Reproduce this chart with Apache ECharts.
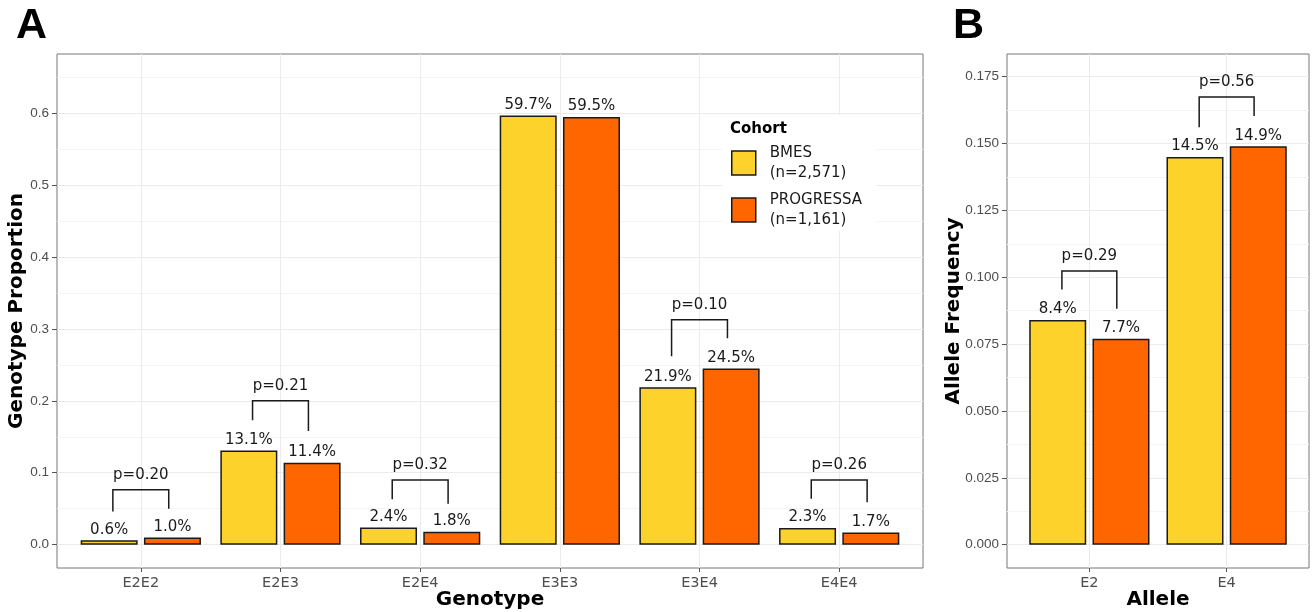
<!DOCTYPE html>
<html lang="en">
<head>
    <meta charset="utf-8">
    <title>APOE genotype and allele</title>
    <script src="https://cdn.jsdelivr.net/npm/echarts@6/dist/echarts.min.js"></script>
    <style>
        html, body { margin: 0; padding: 0; background: #fff; }
        #chart { width: 1313px; height: 612px; }
    </style>
</head>
<body>
<div id="chart"></div>

<script>
    // panel A - genotype proportions
    var genotypes = ['E2E2', 'E2E3', 'E2E4', 'E3E3', 'E3E4', 'E4E4'];
    var bmesGenotype = [0.006, 0.131, 0.024, 0.597, 0.219, 0.023];
    var progressaGenotype = [0.010, 0.114, 0.018, 0.595, 0.245, 0.017];
    var genotypeP = ['p=0.20', 'p=0.21', 'p=0.32', null, 'p=0.10', 'p=0.26'];
    var genotypeBracketTop = [0.0765, 0.200, 0.090, null, 0.313, 0.090];
    var genotypeTipLeft = [0.046, 0.173, 0.063, null, 0.262, 0.064];
    var genotypeTipRight = [0.050, 0.158, 0.057, null, 0.287, 0.059];
    var genotypeTicks = [0, 0.1, 0.2, 0.3, 0.4, 0.5, 0.6];
    var genotypeMinor = [0.05, 0.15, 0.25, 0.35, 0.45, 0.55, 0.65];

    // panel B - allele frequency
    var alleles = ['E2', 'E4'];
    var bmesAllele = [0.084, 0.145];
    var progressaAllele = [0.077, 0.149];
    var alleleP = ['p=0.29', 'p=0.56'];
    var alleleBracketTop = [0.1023, 0.1674];
    var alleleTipLeft = [0.0954, 0.1561];
    var alleleTipRight = [0.0882, 0.1603];
    var alleleTicks = [0, 0.025, 0.05, 0.075, 0.1, 0.125, 0.15, 0.175];
    var alleleMinor = [0.0125, 0.0375, 0.0625, 0.0875, 0.1125, 0.1375, 0.1625];

    var cohorts = ['BMES\n(n=2,571)', 'PROGRESSA\n(n=1,161)'];
    var colors = ['#FDD22B', '#FF6600'];

    var sans = 'DejaVu Sans';
    var ink = '#1a1a1a';

    function toPoints(vals) {
        return vals.map(function (v, i) { return [i + 1, v]; });
    }

    function barSeries(name, color, vals, axis, width) {
        return {
            name: name,
            type: 'bar',
            xAxisIndex: axis,
            yAxisIndex: axis * 2,
            data: toPoints(vals),
            barWidth: width,
            barGap: '11%',
            itemStyle: { color: color, borderColor: ink, borderWidth: 1.5 },
            label: {
                show: true,
                position: 'top',
                distance: 3,
                color: ink,
                fontFamily: sans,
                fontSize: 15,
                formatter: function (p) { return (p.value[1] * 100).toFixed(1) + '%'; }
            },
            z: 3
        };
    }

    function bracketSeries(axis, tops, tipsL, tipsR, labels) {
        var items = [], texts = [];
        tops.forEach(function (t, i) {
            if (t == null) return;
            items.push([i + 1, t, tipsL[i], tipsR[i]]);
            texts.push(labels[i]);
        });
        return {
            type: 'custom',
            xAxisIndex: axis,
            yAxisIndex: axis * 2,
            data: items,
            silent: true,
            z: 4,
            renderItem: function (params, api) {
                var x = api.value(0);
                var l = api.coord([x - 0.2, api.value(2)]);
                var tl = api.coord([x - 0.2, api.value(1)]);
                var tr = api.coord([x + 0.2, api.value(1)]);
                var r = api.coord([x + 0.2, api.value(3)]);
                return {
                    type: 'group',
                    children: [{
                        type: 'polyline',
                        shape: { points: [l, tl, tr, r] },
                        style: { stroke: ink, lineWidth: 1.5, fill: null }
                    }, {
                        type: 'text',
                        x: (tl[0] + tr[0]) / 2,
                        y: tl[1] - 15,
                        style: {
                            text: texts[params.dataIndex],
                            fill: ink,
                            font: '15px "DejaVu Sans"',
                            textAlign: 'center',
                            textVerticalAlign: 'middle'
                        }
                    }]
                };
            }
        };
    }

    function catAxis(grid, n, names, title) {
        return {
            type: 'value',
            gridIndex: grid,
            min: 0.4,
            max: n + 0.6,
            name: title,
            nameLocation: 'middle',
            nameGap: 22,
            nameMoveOverlap: false,
            nameTextStyle: { fontFamily: sans, fontWeight: 'bold', fontSize: 20, color: '#000', verticalAlign: 'top' },
            axisLine: { show: false, onZero: false },
            axisTick: { show: true, length: 4, lineStyle: { color: '#555' },
                customValues: names.map(function (s, i) { return i + 1; }) },
            axisLabel: {
                customValues: names.map(function (s, i) { return i + 1; }),
                formatter: function (v) { return names[Math.round(v) - 1]; },
                color: '#4d4d4d', fontFamily: sans, fontSize: 14.5, margin: 8
            },
            splitLine: { show: true, lineStyle: { color: '#ebebeb', width: 1 } }
        };
    }

    function valAxes(grid, min, max, ticks, minor, digits, title, gap) {
        return [{
            type: 'value',
            gridIndex: grid,
            min: min,
            max: max,
            name: title,
            nameLocation: 'middle',
            nameGap: gap,
            nameMoveOverlap: false,
            nameTextStyle: { fontFamily: sans, fontWeight: 'bold', fontSize: 20, color: '#000' },
            axisLine: { show: false, onZero: false },
            axisTick: { show: true, length: 5, lineStyle: { color: '#555' }, customValues: ticks },
            axisLabel: {
                customValues: ticks,
                formatter: function (v) { return v.toFixed(digits); },
                color: '#4d4d4d', fontFamily: 'Liberation Sans', fontSize: 13.5, margin: 8
            },
            splitLine: { show: true, lineStyle: { color: '#ebebeb', width: 1 } }
        }, {
            type: 'value',
            gridIndex: grid,
            position: 'right',
            min: min,
            max: max,
            axisLine: { show: false, onZero: false },
            axisTick: { show: false, customValues: minor },
            axisLabel: { show: false },
            splitLine: { show: true, lineStyle: { color: '#f4f4f4', width: 1 } }
        }];
    }

    var chart = echarts.init(document.getElementById('chart'));
    chart.setOption({
        animation: false,
        backgroundColor: '#fff',
        title: {
            text: 'Cohort',
            left: 730,
            top: 122,
            textStyle: { fontFamily: sans, fontWeight: 'bold', fontSize: 15, color: '#000' },
            padding: 0
        },
        legend: {
            data: cohorts,
            orient: 'vertical',
            left: 722,
            top: 115,
            padding: [28, 14, 1, 9],
            itemGap: 7,
            itemWidth: 24,
            itemHeight: 24,
            icon: 'rect',
            backgroundColor: '#fff',
            selectedMode: false,
            itemStyle: { borderColor: ink, borderWidth: 1.5 },
            textStyle: { fontFamily: sans, fontSize: 15, lineHeight: 20, color: ink, padding: [0, 0, 0, 9] }
        },
        grid: [
            { left: 57, top: 54, width: 866, height: 514, show: true, borderColor: '#777', borderWidth: 1, outerBoundsMode: 'none' },
            { left: 1007, top: 54, width: 302, height: 514, show: true, borderColor: '#777', borderWidth: 1, outerBoundsMode: 'none' }
        ],
        xAxis: [
            catAxis(0, genotypes.length, genotypes, 'Genotype'),
            catAxis(1, alleles.length, alleles, 'Allele')
        ],
        yAxis: valAxes(0, -0.0325, 0.6825, genotypeTicks, genotypeMinor, 1, 'Genotype Proportion', 30)
            .concat(valAxes(1, -0.00874, 0.1835, alleleTicks, alleleMinor, 3, 'Allele Frequency', 43)),
        graphic: [
            { type: 'text', left: 16, top: 5, style: { text: 'A', font: 'bold 43px "Liberation Sans"', fill: '#000' } },
            { type: 'text', left: 953, top: 5, style: { text: 'B', font: 'bold 43px "Liberation Sans"', fill: '#000' } }
        ],
        series: [
            barSeries(cohorts[0], colors[0], bmesGenotype, 0, 57),
            barSeries(cohorts[1], colors[1], progressaGenotype, 0, 57),
            barSeries(cohorts[0], colors[0], bmesAllele, 1, 57),
            barSeries(cohorts[1], colors[1], progressaAllele, 1, 57),
            bracketSeries(0, genotypeBracketTop, genotypeTipLeft, genotypeTipRight, genotypeP),
            bracketSeries(1, alleleBracketTop, alleleTipLeft, alleleTipRight, alleleP)
        ]
    });
</script>
</body>
</html>
